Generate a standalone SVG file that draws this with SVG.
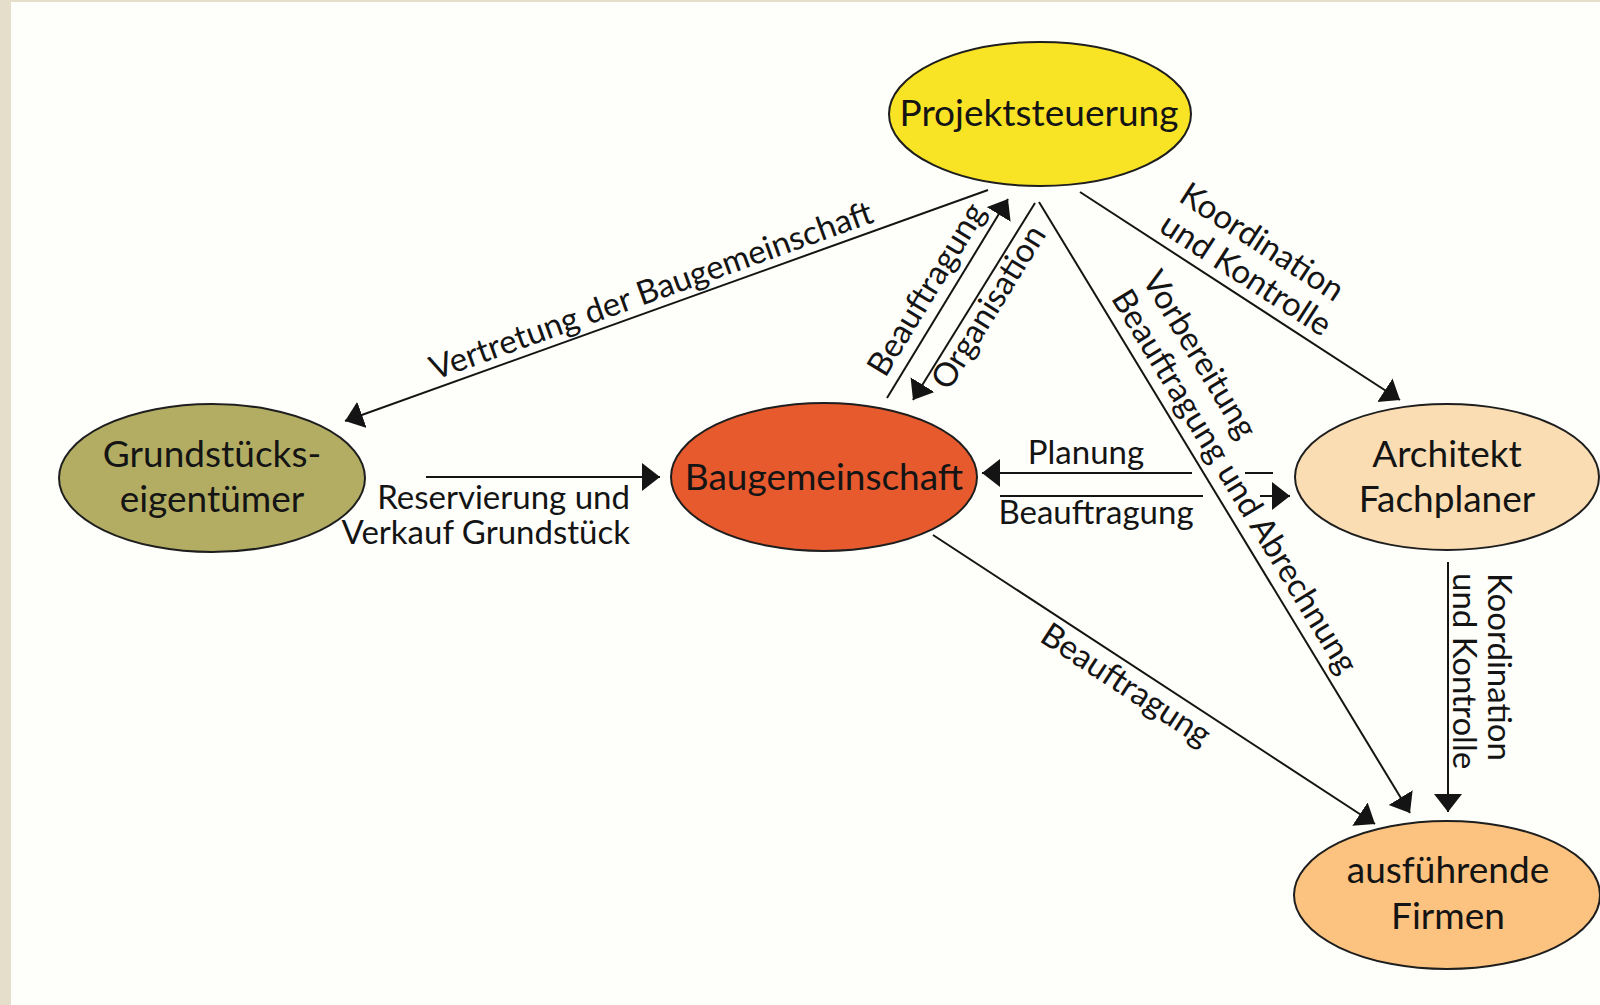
<svg xmlns="http://www.w3.org/2000/svg" width="1600" height="1005" viewBox="0 0 1600 1005">
<style>
.node ellipse{stroke:#1e1e1e;stroke-width:2}
.node text{font-family:Lato,"Liberation Sans",sans-serif;font-size:37px;fill:#141414;text-anchor:middle}
.lbl{font-family:Lato,"Liberation Sans",sans-serif;font-size:33px;fill:#141414}
.conn line{stroke:#141414;stroke-width:2;fill:none}
</style>
<defs>
<marker id="ah" markerUnits="userSpaceOnUse" markerWidth="20" markerHeight="30" refX="18" refY="14" orient="auto">
<path d="M0,0 L18,14 L0,28 Z" fill="#141414"/>
</marker>
</defs>
<rect x="0" y="0" width="1600" height="1005" fill="#FEFEFA"/>
<rect x="0" y="0" width="11" height="1005" fill="#E5DECA"/>
<rect x="0" y="0" width="1600" height="2" fill="#E5DECA"/>

<g class="conn">
<line x1="988" y1="190" x2="345" y2="421" marker-end="url(#ah)"/>
<line x1="887" y1="398" x2="1008" y2="199" marker-end="url(#ah)"/>
<line x1="1035" y1="203" x2="913" y2="400" marker-end="url(#ah)"/>
<line x1="1039" y1="202" x2="1410" y2="813" marker-end="url(#ah)"/>
<line x1="1080" y1="192" x2="1400" y2="400" marker-end="url(#ah)"/>
<line x1="1192" y1="473" x2="982" y2="473" marker-end="url(#ah)"/>
<line x1="1245" y1="473" x2="1273" y2="473"/>
<line x1="1000" y1="496" x2="1203" y2="496"/>
<line x1="1260" y1="496" x2="1290" y2="496" marker-end="url(#ah)"/>
<line x1="426" y1="477" x2="660" y2="477" marker-end="url(#ah)"/>
<line x1="933" y1="535" x2="1375" y2="824" marker-end="url(#ah)"/>
<line x1="1448" y1="562" x2="1448" y2="812" marker-end="url(#ah)"/>
</g>

<g id="labels">
<text class="lbl" text-anchor="middle" transform="translate(655,301) rotate(-19.8)">Vertretung der Baugemeinschaft</text>
<text class="lbl" text-anchor="middle" transform="translate(936,295) rotate(-58.7)">Beauftragung</text>
<text class="lbl" text-anchor="middle" transform="translate(998,313) rotate(-58.2)">Organisation</text>
<g transform="translate(1101,304) rotate(58.7)">
<text class="lbl" x="0" y="-47">Vorbereitung</text>
<text class="lbl" x="0" y="-11">Beauftragung und Abrechnung</text>
</g>
<g transform="translate(1080,192) rotate(33)">
<text class="lbl" x="86" y="-46">Koordination</text>
<text class="lbl" x="86" y="-10">und Kontrolle</text>
</g>
<text class="lbl" text-anchor="middle" x="1086" y="464">Planung</text>
<text class="lbl" text-anchor="middle" x="1096" y="524">Beauftragung</text>
<text class="lbl" text-anchor="end" x="630" y="509">Reservierung und</text>
<text class="lbl" text-anchor="end" x="630" y="544">Verkauf Grundstück</text>
<text class="lbl" text-anchor="middle" transform="translate(1120,694) rotate(33.2)">Beauftragung</text>
<g transform="translate(1453,573) rotate(90)">
<text class="lbl" x="0" y="-35">Koordination</text>
<text class="lbl" x="0" y="0">und Kontrolle</text>
</g>
</g>

<g id="projektsteuerung" class="node">
<ellipse cx="1040" cy="114" rx="151" ry="72" fill="#F9E325"/>
<text x="1039" y="126">Projektsteuerung</text>
</g>
<g id="grundstueckseigentuemer" class="node">
<ellipse cx="212" cy="478" rx="153" ry="74" fill="#B3AD63"/>
<text x="212" y="467">Grundstücks-</text>
<text x="212" y="512">eigentümer</text>
</g>
<g id="baugemeinschaft" class="node">
<ellipse cx="824" cy="477" rx="153" ry="74" fill="#E65A2E"/>
<text x="824" y="490">Baugemeinschaft</text>
</g>
<g id="architekt" class="node">
<ellipse cx="1447" cy="477" rx="152" ry="73" fill="#FBDDB3"/>
<text x="1447" y="467">Architekt</text>
<text x="1447" y="512">Fachplaner</text>
</g>
<g id="firmen" class="node">
<ellipse cx="1447" cy="895" rx="153" ry="74" fill="#FBC37F"/>
<text x="1448" y="883">ausführende</text>
<text x="1448" y="929">Firmen</text>
</g>
</svg>
